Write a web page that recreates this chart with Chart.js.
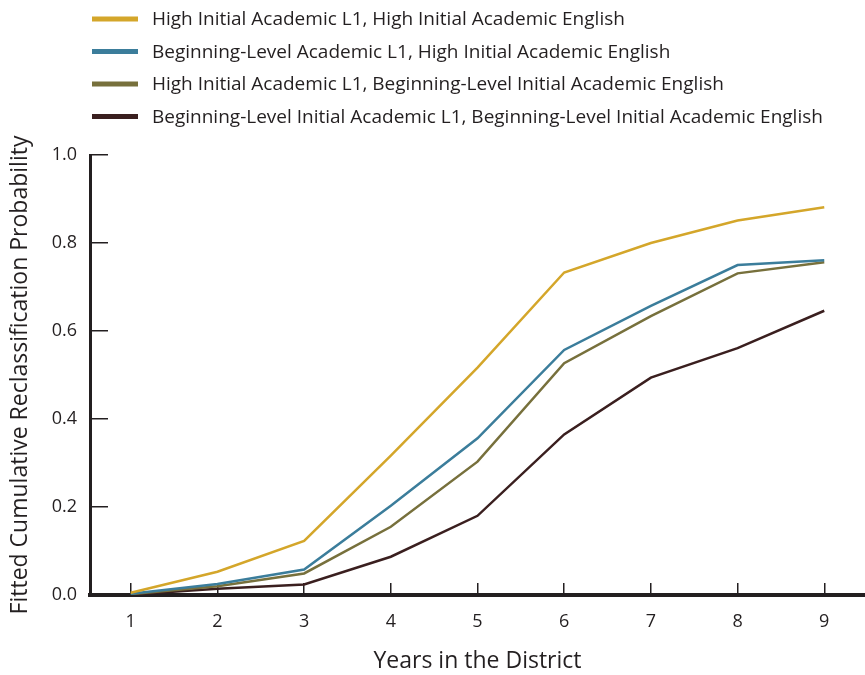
<!DOCTYPE html>
<html>
<head>
<meta charset="utf-8">
<script src="https://cdn.jsdelivr.net/npm/chart.js@4"></script>
<style>
  body { margin: 0; background: #fff; }
</style>
</head>
<body>
<canvas id="chart" width="865" height="675"></canvas>
<script>
const years = [1, 2, 3, 4, 5, 6, 7, 8, 9];
const yTicks = [0, 0.2, 0.4, 0.6, 0.8, 1.0];

const highL1HighEng = [0.005, 0.053, 0.123, 0.317, 0.517, 0.733, 0.80, 0.851, 0.881];
const begL1HighEng = [0.003, 0.025, 0.058, 0.203, 0.356, 0.557, 0.657, 0.75, 0.761];
const highL1BegEng = [0.002, 0.02, 0.049, 0.155, 0.303, 0.527, 0.634, 0.731, 0.756];
const begL1BegEng = [0.001, 0.014, 0.024, 0.087, 0.18, 0.365, 0.494, 0.561, 0.646];

const seriesNames = [
  "High Initial Academic L1, High Initial Academic English",
  "Beginning-Level Academic L1, High Initial Academic English",
  "High Initial Academic L1, Beginning-Level Initial Academic English",
  "Beginning-Level Initial Academic L1, Beginning-Level Initial Academic English",
];
const colors = ["#d4a62a", "#3b7d9b", "#77703c", "#3a1f1f"];
const ink = "#231f20";
const font = "Open Sans";

function points(values) {
  return years.map((x, i) => ({ x: x, y: values[i] }));
}

// legend drawn at the top, one series per row
const topLegend = {
  id: "topLegend",
  afterDraw(chart) {
    const c = chart.ctx;
    c.save();
    chart.data.datasets.forEach((ds, i) => {
      const y = 19 + i * 32.5;
      c.strokeStyle = ds.borderColor;
      c.lineWidth = 5;
      c.beginPath();
      c.moveTo(92, y);
      c.lineTo(138, y);
      c.stroke();
      c.fillStyle = ink;
      c.font = "19px '" + font + "'";
      c.textBaseline = "middle";
      c.fillText(ds.label, 152, y + 1);
    });
    c.restore();
  },
};

const data = [highL1HighEng, begL1HighEng, highL1BegEng, begL1BegEng];

new Chart(document.getElementById("chart"), {
  type: "line",
  data: {
    datasets: data.map((vals, i) => ({
      label: seriesNames[i],
      data: points(vals),
      borderColor: colors[i],
      backgroundColor: colors[i],
      borderWidth: 2.5,
      pointRadius: 0,
      tension: 0,
    })),
  },
  options: {
    responsive: false,
    animation: false,
    layout: { padding: { top: 155, left: 0, right: 0, bottom: 0 } },
    plugins: {
      legend: { display: false },
      tooltip: { enabled: false },
    },
    scales: {
      x: {
        type: "linear",
        min: 0.53,
        max: 9.47,
        afterBuildTicks: (s) => { s.ticks = years.map((v) => ({ value: v })); },
        afterFit: (s) => { s.height = 80; },
        grid: { drawOnChartArea: false, tickLength: -12, color: ink, lineWidth: 1.5 },
        border: { color: ink, width: 4 },
        ticks: { color: ink, font: { family: font, size: 18 }, padding: 28, maxRotation: 0 },
        title: {
          display: true,
          text: "Years in the District",
          color: ink,
          font: { family: font, size: 23 },
          padding: { top: 0, bottom: 0 },
        },
      },
      y: {
        min: 0,
        max: 1,
        afterBuildTicks: (s) => { s.ticks = yTicks.map((v) => ({ value: v })); },
        afterFit: (s) => { s.width = 90; },
        grid: { drawOnChartArea: false, tickLength: -18, color: ink, lineWidth: 1.5 },
        border: { color: ink, width: 3 },
        ticks: {
          color: ink,
          font: { family: font, size: 18 },
          padding: 31,
          callback: (v) => Number(v).toFixed(1),
        },
        title: {
          display: true,
          text: "Fitted Cumulative Reclassification Probability",
          color: ink,
          font: { family: font, size: 23 },
          padding: { top: 7, bottom: 0 },
        },
      },
    },
  },
  plugins: [topLegend],
});
</script>
</body>
</html>
